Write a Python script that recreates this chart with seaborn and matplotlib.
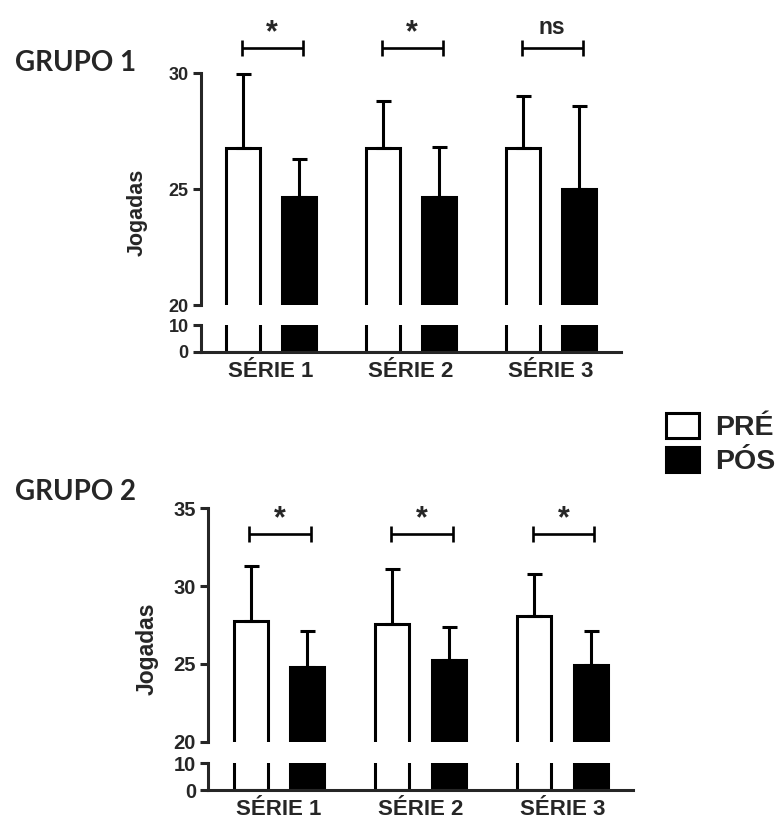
import matplotlib
matplotlib.use("Agg")
import matplotlib.pyplot as plt
from matplotlib.patches import Patch
import seaborn as sns
import pandas as pd

# ---------------- data ----------------
series = ["SÉRIE 1", "SÉRIE 2", "SÉRIE 3"]
moments = ["PRÉ", "PÓS"]

g1_pre_mean = [26.77, 26.77, 26.77]
g1_pre_sd = [3.18, 2.03, 2.25]
g1_pos_mean = [24.64, 24.64, 25.00]
g1_pos_sd = [1.66, 2.16, 3.60]
g1_sig = ["*", "*", "ns"]

g2_pre_mean = [27.76, 27.56, 28.06]
g2_pre_sd = [3.55, 3.54, 2.72]
g2_pos_mean = [24.78, 25.23, 24.95]
g2_pos_sd = [2.35, 2.16, 2.18]
g2_sig = ["*", "*", "*"]

g1_top_ticks = [20, 25, 30]
g2_top_ticks = [20, 25, 30, 35]
bottom_ticks = [0, 10]

# ---------------- style ----------------
sns.set_style("white")
plt.rcParams["font.family"] = ["Liberation Sans", "DejaVu Sans"]
plt.rcParams["font.weight"] = "bold"

W, H = 782, 823
fig = plt.figure(figsize=(W / 100, H / 100), dpi=100)

LW = 2.2
pal = {"PRÉ": "white", "PÓS": "black"}


def make_df(pre, pos):
    rows = []
    for i, s in enumerate(series):
        rows.append({"serie": s, "momento": "PRÉ", "valor": pre[i]})
        rows.append({"serie": s, "momento": "PÓS", "valor": pos[i]})
    return pd.DataFrame(rows)


def px_rect(left, right, top, bottom):
    return [left / W, 1 - bottom / H, (right - left) / W, (bottom - top) / H]


def draw_group(df, sds, sig, top_rect, bot_rect, top_lim, top_ticks,
               ytick_size, bracket_y, label_x, label_size):
    ax_t = fig.add_axes(top_rect)
    ax_b = fig.add_axes(bot_rect)
    for ax in (ax_t, ax_b):
        sns.barplot(data=df, x="serie", y="valor", hue="momento",
                    order=series, hue_order=moments, palette=pal,
                    saturation=1, edgecolor="black", linewidth=LW,
                    width=0.8, gap=0.4, errorbar=None, legend=False, ax=ax)
        ax.set_xlim(-0.5, 2.5)
        ax.set_xlabel("")
        ax.set_ylabel("")
        for sp in ("top", "right"):
            ax.spines[sp].set_visible(False)
        ax.spines["left"].set_linewidth(LW)
        ax.spines["bottom"].set_linewidth(LW)
        ax.tick_params(axis="y", direction="out", length=5.8, width=LW,
                       labelsize=ytick_size, pad=3.0, left=True)

    ax_t.set_ylim(*top_lim)
    ax_t.set_yticks(top_ticks)
    ax_t.spines["bottom"].set_visible(False)
    ax_t.tick_params(axis="x", bottom=False, labelbottom=False)

    ax_b.set_ylim(0, 10)
    ax_b.set_yticks(bottom_ticks)
    ax_b.tick_params(axis="x", length=0, labelsize=16, pad=6.5)
    for t in ax_b.get_xticklabels():
        t.set_fontweight("bold")
    for t in ax_t.get_yticklabels() + ax_b.get_yticklabels():
        t.set_fontweight("bold")

    # one-sided error bars and bar centres
    centres = {}
    for p in ax_t.patches:
        if p.get_width() == 0:
            continue
        cx = p.get_x() + p.get_width() / 2
        i = int(round(cx))
        k = 0 if cx < i else 1
        centres[(i, k)] = cx
        eb = ax_t.errorbar(cx, p.get_height(), yerr=[[0], [sds[k][i]]],
                           fmt="none", ecolor="black", elinewidth=LW,
                           capsize=5.4, capthick=LW, zorder=1)
        for art in eb.get_children():
            art.set_clip_on(False)

    # significance brackets
    for i, s in enumerate(sig):
        x1 = centres[(i, 0)] - 0.01
        x2 = centres[(i, 1)] + 0.025
        ax_t.plot([x1, x2], [bracket_y, bracket_y], color="black", lw=1.9,
                  marker="|", markersize=11.5, markeredgewidth=1.9,
                  clip_on=False, solid_capstyle="butt")
        if s == "*":
            ax_t.annotate(s, xy=((x1 + x2) / 2, bracket_y), xytext=(0, 5.0),
                          textcoords="offset points", ha="center",
                          va="baseline", fontsize=22, fontweight="bold",
                          annotation_clip=False)
        else:
            ax_t.annotate(s, xy=((x1 + x2) / 2, bracket_y), xytext=(0, 10.3),
                          textcoords="offset points", ha="center",
                          va="baseline", fontsize=16.5, fontweight="bold",
                          annotation_clip=False)

    # y label centred on both axes
    top_px = (1 - (top_rect[1] + top_rect[3])) * H
    bot_px = (1 - bot_rect[1]) * H
    fig.text(label_x / W, 1 - (top_px + bot_px) / 2 / H, "Jogadas",
             rotation=90, ha="center", va="center", fontsize=label_size,
             fontweight="bold")


# group 1
df1 = make_df(g1_pre_mean, g1_pos_mean)
draw_group(df1, [g1_pre_sd, g1_pos_sd], g1_sig,
           px_rect(201, 621, 73.3, 305), px_rect(201, 621, 325, 352),
           (20, 30), g1_top_ticks, 13, 31.08, 137.3, 15.5)

# group 2
df2 = make_df(g2_pre_mean, g2_pos_mean)
draw_group(df2, [g2_pre_sd, g2_pos_sd], g2_sig,
           px_rect(208.3, 633.3, 508.3, 741.7), px_rect(208.3, 633.3, 763.3, 790),
           (20, 35), g2_top_ticks, 14.5, 33.35, 147.5, 16.5)

# group titles
fig.text(15 / W, 1 - 70.7 / H, "GRUPO 1", ha="left", va="baseline",
         fontsize=20, fontweight="bold", family=["Lato", "DejaVu Sans"])
fig.text(15 / W, 1 - 499.5 / H, "GRUPO 2", ha="left", va="baseline",
         fontsize=20, fontweight="bold", family=["Lato", "DejaVu Sans"])

# legend
handles = [Patch(facecolor="white", edgecolor="black", linewidth=LW,
                 joinstyle="round", label="PRÉ"),
           Patch(facecolor="black", edgecolor="black", linewidth=LW,
                 joinstyle="round", label="PÓS")]
fig.legend(handles=handles, loc="upper left",
           bbox_to_anchor=(666 / W, 1 - 413 / H), frameon=False,
           prop={"size": 20.5, "weight": "bold"}, handlelength=1.16,
           handleheight=0.98, handletextpad=0.55, labelspacing=0.2,
           borderpad=0, borderaxespad=0)

fig.savefig("out.png", dpi=100)
